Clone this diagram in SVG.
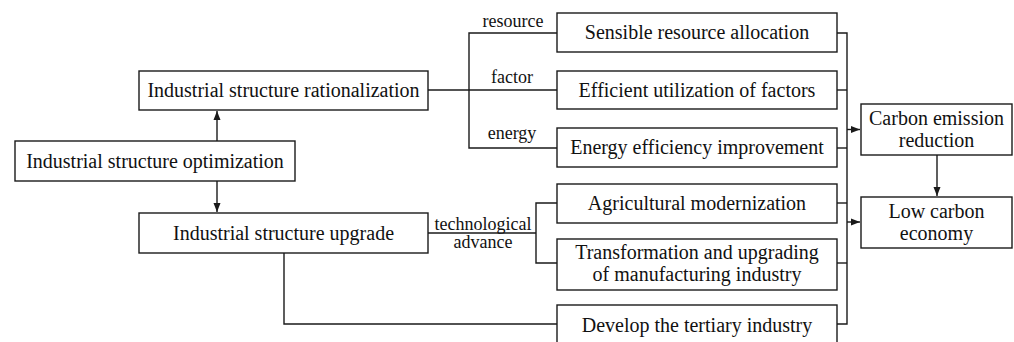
<svg xmlns="http://www.w3.org/2000/svg" width="1014" height="342" viewBox="0 0 1014 342">
  <style>
    .box { fill: #fff; stroke: #1a1a1a; stroke-width: 1.4; }
    .t { font-family: 'Liberation Serif', 'Times New Roman', serif; font-size: 20px; fill: #111; text-anchor: middle; }
    .lbl { font-family: 'Liberation Serif', 'Times New Roman', serif; font-size: 18px; fill: #111; text-anchor: middle; }
    .ln { fill: none; stroke: #1a1a1a; stroke-width: 1.4; }
  </style>
  <defs>
    <marker id="arrow" markerUnits="userSpaceOnUse" markerWidth="10" markerHeight="8" refX="9" refY="4" orient="auto">
      <path d="M0,0.5 L9,4 L0,7.5 Z" fill="#1a1a1a"/>
    </marker>
  </defs>

  <!-- connectors -->
  <g id="connectors">
    <!-- optimization to rationalization / upgrade -->
    <line class="ln" x1="217" y1="141" x2="217" y2="111" marker-end="url(#arrow)"/>
    <line class="ln" x1="217" y1="181" x2="217" y2="212" marker-end="url(#arrow)"/>
    <!-- rationalization branches -->
    <line class="ln" x1="428" y1="90" x2="557" y2="90"/>
    <polyline class="ln" points="557,33 469,33 469,148 557,148"/>
    <!-- upgrade branches -->
    <line class="ln" x1="428" y1="233" x2="536" y2="233"/>
    <polyline class="ln" points="557,203 536,203 536,263 557,263"/>
    <polyline class="ln" points="284,253 284,324 557,324"/>
    <!-- right collector -->
    <polyline class="ln" points="837,33 847,33 847,324 837,324"/>
    <line class="ln" x1="837" y1="90" x2="847" y2="90"/>
    <line class="ln" x1="837" y1="148" x2="847" y2="148"/>
    <line class="ln" x1="837" y1="203" x2="847" y2="203"/>
    <line class="ln" x1="837" y1="263" x2="847" y2="263"/>
    <line class="ln" x1="847" y1="129.5" x2="860" y2="129.5" marker-end="url(#arrow)"/>
    <line class="ln" x1="847" y1="222" x2="860" y2="222" marker-end="url(#arrow)"/>
    <line class="ln" x1="937" y1="155" x2="937" y2="196" marker-end="url(#arrow)"/>
    <!-- branch labels -->
    <text class="lbl" x="513" y="27">resource</text>
    <text class="lbl" x="512" y="83">factor</text>
    <text class="lbl" x="512" y="139">energy</text>
    <text class="lbl" x="483" y="230">technological</text>
    <text class="lbl" x="483" y="248">advance</text>
  </g>

  <g id="optimization">
    <rect class="box" x="15" y="141" width="280" height="40"/>
    <text class="t" x="155" y="168">Industrial structure optimization</text>
  </g>
  <g id="rationalization">
    <rect class="box" x="139" y="71" width="289" height="39"/>
    <text class="t" x="283.5" y="97">Industrial structure rationalization</text>
  </g>
  <g id="upgrade">
    <rect class="box" x="139" y="213" width="289" height="40"/>
    <text class="t" x="283.5" y="240">Industrial structure upgrade</text>
  </g>
  <g id="resource-allocation">
    <rect class="box" x="557" y="13" width="280" height="39"/>
    <text class="t" x="697" y="39">Sensible resource allocation</text>
  </g>
  <g id="factor-utilization">
    <rect class="box" x="557" y="71" width="280" height="38"/>
    <text class="t" x="697" y="97">Efficient utilization of factors</text>
  </g>
  <g id="energy-efficiency">
    <rect class="box" x="557" y="128" width="280" height="39"/>
    <text class="t" x="697" y="154">Energy efficiency improvement</text>
  </g>
  <g id="agriculture">
    <rect class="box" x="557" y="184" width="280" height="39"/>
    <text class="t" x="697" y="210">Agricultural modernization</text>
  </g>
  <g id="manufacturing">
    <rect class="box" x="557" y="239" width="280" height="51"/>
    <text class="t" x="697" y="259">Transformation and upgrading</text>
    <text class="t" x="697" y="281">of manufacturing industry</text>
  </g>
  <g id="tertiary">
    <rect class="box" x="557" y="305" width="280" height="39"/>
    <text class="t" x="697" y="332">Develop the tertiary industry</text>
  </g>
  <g id="carbon-reduction">
    <rect class="box" x="861" y="104" width="151" height="51"/>
    <text class="t" x="936.5" y="125">Carbon emission</text>
    <text class="t" x="936.5" y="147">reduction</text>
  </g>
  <g id="low-carbon">
    <rect class="box" x="861" y="197" width="151" height="51"/>
    <text class="t" x="936.5" y="218">Low carbon</text>
    <text class="t" x="936.5" y="240">economy</text>
  </g>
</svg>
